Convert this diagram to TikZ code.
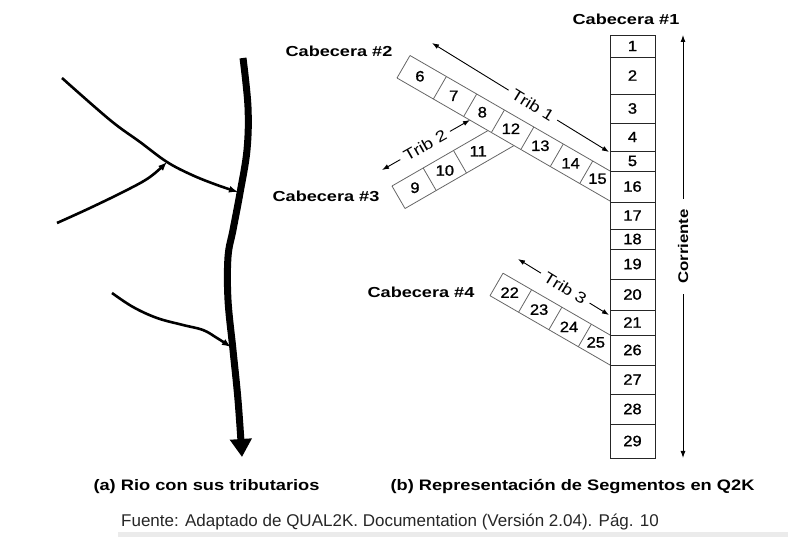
\documentclass[tikz,border=0pt]{standalone}
\usepackage{fontspec}
\setmainfont{Liberation Sans}
\newfontfamily\wfont[FakeStretch=1.2]{Liberation Sans}
\newfontfamily\lfont[FakeStretch=1.25]{Liberation Sans}
\newfontfamily\nfont[FakeStretch=1.1, FakeBold=1.2]{Liberation Sans}
\usetikzlibrary{arrows.meta,calc}
\begin{document}
\begin{tikzpicture}[x=1pt,y=1pt,
  colcell/.style={draw=black!85, line width=0.9pt, minimum width=45pt, inner sep=0pt, outer sep=0pt,
                  font=\nfont\fontsize{15}{15}\selectfont},
  stripline/.style={draw=black!60, line width=0.8pt},
  num/.style={inner sep=0pt, font=\nfont\fontsize{15}{15}\selectfont},
  lbl/.style={inner sep=0pt, font=\lfont\bfseries\fontsize{14.5}{15}\selectfont},
  captxt/.style={inner sep=0pt, font=\wfont\bfseries\fontsize{15.2}{16}\selectfont},
  tribtxt/.style={fill=white, inner xsep=5pt, inner ysep=0pt, font=\wfont\fontsize{15.5}{15}\selectfont},
  tribarrow/.style={{Latex[length=7pt,width=5pt]}-{Latex[length=7pt,width=5pt]}, line width=0.9pt},
  river/.style={line width=7pt, -{Triangle[length=18pt,width=21pt]}},
  trib/.style={line width=2.6pt, -{Latex[length=9pt,width=7pt]}}
]
\useasboundingbox (0,0) rectangle (788,-537);

% ---------- (a) river ----------
\coordinate (rtop) at (243,-58);
\coordinate (rend) at (242,-457);
\draw[river] plot[smooth, tension=0.6] coordinates {(rtop) (248,-107) (247,-150) (240,-193) (233,-230) (228,-257) (228,-300) (233,-350) (238,-400) (rend)};
\coordinate (ja) at (62,-78);
\coordinate (jmid) at (167,-162);
\coordinate (jend) at (238,-192);
\draw[trib] plot[smooth, tension=0.6] coordinates {(ja) (110,-120) (140,-142) (jmid) (192,-175) (217,-185) (jend)};
\coordinate (jb) at (57,-223);
\draw[trib] plot[smooth, tension=0.6] coordinates {(jb) (90,-208) (127,-190) (150,-177) (jmid)};
\coordinate (jc) at (112,-293);
\coordinate (jcend) at (231,-347);
\draw[trib] plot[smooth, tension=0.6] coordinates {(jc) (133,-307) (157,-318) (183,-325) (203,-330) (217,-338) (jcend)};

% ---------- (b) main column ----------
\foreach \t/\b/\n in {35/57/1, 57/94/2, 94/123/3, 123/151/4, 151/171/5, 171/202/16, 202/229/17,
                      229/249/18, 249/279/19, 279/310/20, 310/335/21, 335/365/26, 365/394/27,
                      394/424/28, 424/458/29}
  \node[colcell, minimum height={(\b-\t)*1pt}] (c\n) at (632.5,{-(\t+\b)/2}) {\n};

% strip 1 (Trib 1)
\begin{scope}[shift={(410,-55.5)}, rotate=-30]
  \draw[stripline] (0,0) -- (231,0) (0,-26) -- (246,-26) (0,0) -- (0,-26);
  \foreach \d in {42,77,109,143,177,211} \draw[stripline] (\d,0) -- (\d,-26);
  \foreach \x/\n in {19/6, 58/7, 91/8, 124/12, 158/13, 193/14, 224/15}
    \node[num] (s\n) at (\x,-13) {\n};
\end{scope}

% strip 2 (Trib 2)
\begin{scope}[shift={(392,-186)}, rotate=30]
  \draw[stripline] (0,0) -- (111,0) (0,-26) -- (126,-26) (0,0) -- (0,-26);
  \foreach \d in {36,71} \draw[stripline] (\d,0) -- (\d,-26);
  \foreach \x/\n in {19/9, 53.5/10, 92/11}
    \node[num] (s\n) at (\x,-13) {\n};
\end{scope}

% strip 3 (Trib 3)
\begin{scope}[shift={(503,-273.2)}, rotate=-30]
  \draw[stripline] (0,0) -- (123.6,0) (0,-26) -- (138.6,-26) (0,0) -- (0,-26);
  \foreach \d in {33,68,102} \draw[stripline] (\d,0) -- (\d,-26);
  \foreach \x/\n in {15.5/22, 49.5/23, 84/24, 115/25}
    \node[num] (s\n) at (\x,-13.5) {\n};
\end{scope}

% headwater labels
\node[lbl] (cab1) at (626,-19) {Cabecera \#1};
\node[lbl] (cab2) at (339,-51) {Cabecera \#2};
\node[lbl] (cab3) at (326,-196) {Cabecera \#3};
\node[lbl] (cab4) at (421,-292) {Cabecera \#4};

% tributary arrows
\coordinate (t1a) at (432,-43);
\coordinate (t1b) at (609,-152);
\draw[tribarrow] (t1a) -- node[tribtxt, sloped, pos=0.57] (tr1) {Trib 1} (t1b);
\coordinate (t2a) at (382,-170);
\coordinate (t2b) at (470,-120);
\draw[tribarrow] (t2a) -- node[tribtxt, sloped, pos=0.49] (tr2) {Trib 2} (t2b);
\coordinate (t3a) at (518,-259);
\coordinate (t3b) at (609,-315);
\draw[tribarrow] (t3a) -- node[tribtxt, sloped, pos=0.52] (tr3) {Trib 3} (t3b);

% Corriente
\coordinate (ctop) at (683,-35);
\coordinate (cbot) at (683,-458);
\draw[tribarrow] (ctop) -- node[fill=white, inner xsep=10pt, inner ysep=2pt, rotate=90,
      font=\wfont\bfseries\fontsize{14}{14}\selectfont] (corr) {Corriente} (cbot);

% captions
\node[captxt] (capa) at (206.5,-487) {(a) Rio con sus tributarios};
\node[captxt] (capb) at (572.5,-487) {(b) Representación de Segmentos en Q2K};
\node[inner sep=0pt, anchor=west, text=black!85, font=\fontsize{17}{18}\selectfont] (fuente) at (121,-522)
  {Fuente: Adaptado de QUAL2K. Documentation (Versión 2.04). Pág. 10};
\fill[black!8] (118,-532) rectangle (788,-537);
\end{tikzpicture}
\end{document}
